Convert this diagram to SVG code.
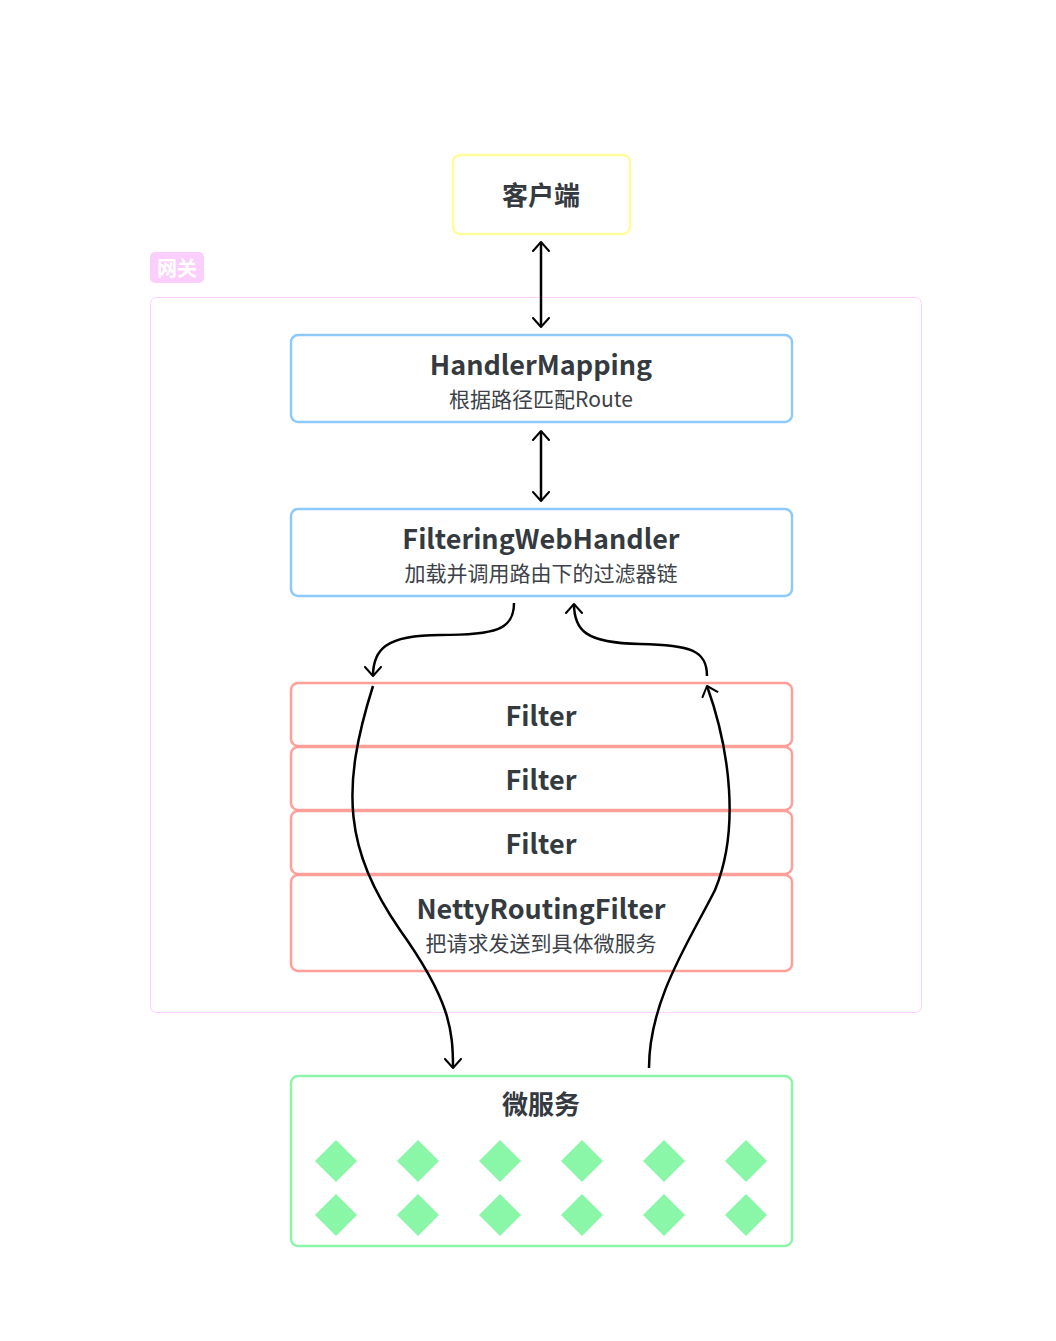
<svg xmlns="http://www.w3.org/2000/svg" width="1056" height="1341" viewBox="0 0 1056 1341">
<defs>
<marker id="ah" viewBox="0 0 20 20" refX="10" refY="10" markerWidth="20" markerHeight="20" markerUnits="userSpaceOnUse" orient="auto-start-reverse">
<path d="M1 2 L10 10 L1 18" fill="none" stroke="#000" stroke-width="2" stroke-linecap="round" stroke-linejoin="round"/>
</marker>
<style>
text{font-family:"Noto Sans CJK SC","Noto Sans",sans-serif;fill:#343a40;text-anchor:middle}
.t{font-size:27px;font-weight:bold}
.s{font-size:21px;fill:#3c4248}
.blue{fill:#fff;stroke:#8ec9fb;stroke-width:2.5}
.red{fill:#fff;stroke:#ff9f9a;stroke-width:2.5}
.c{fill:none;stroke:#000;stroke-width:2.5;marker-end:url(#ah)}
.dia{fill:#8af7a8}
</style>
</defs>
<rect width="1056" height="1341" fill="#fff"/>
<g id="gateway">
<rect x="150.5" y="297.5" width="771" height="715" rx="6" fill="none" stroke="#fbd0fc" stroke-width="1"/>
<rect x="150" y="252" width="54" height="31" rx="5" fill="#fbcffc"/>
<text x="177" y="276" style="font-size:20px;font-weight:bold;fill:#fff">网关</text>
</g>
<g id="client">
<rect x="453" y="155" width="177" height="79" rx="7" fill="#fff" stroke="#fffc9e" stroke-width="2.5"/>
<text x="541" y="205" style="font-size:26px;font-weight:bold">客户端</text>
</g>
<g id="handlermapping">
<rect x="291" y="335" width="501" height="87" rx="7" class="blue"/>
<text x="541" y="375" class="t">HandlerMapping</text>
<text x="541" y="407" class="s">根据路径匹配Route</text>
</g>
<g id="filteringwebhandler">
<rect x="291" y="509" width="501" height="87" rx="7" class="blue"/>
<text x="541" y="549" class="t">FilteringWebHandler</text>
<text x="541" y="581" class="s">加载并调用路由下的过滤器链</text>
</g>
<g id="filter1">
<rect x="291" y="683" width="501" height="63" rx="7" class="red"/>
<text x="541" y="726" class="t">Filter</text>
</g>
<g id="filter2">
<rect x="291" y="747" width="501" height="63" rx="7" class="red"/>
<text x="541" y="790" class="t">Filter</text>
</g>
<g id="filter3">
<rect x="291" y="811" width="501" height="63" rx="7" class="red"/>
<text x="541" y="854" class="t">Filter</text>
</g>
<g id="nettyroutingfilter">
<rect x="291" y="875" width="501" height="96" rx="7" class="red"/>
<text x="541" y="919" class="t">NettyRoutingFilter</text>
<text x="541" y="951" class="s">把请求发送到具体微服务</text>
</g>
<g id="microservices">
<rect x="291" y="1076" width="501" height="170" rx="7" fill="#fff" stroke="#8cf5a8" stroke-width="2.5"/>
<text x="541" y="1114" style="font-size:26px;font-weight:bold">微服务</text>
<g class="dia">
<path d="M336 1140 l21 21 l-21 21 l-21 -21 z"/>
<path d="M418 1140 l21 21 l-21 21 l-21 -21 z"/>
<path d="M500 1140 l21 21 l-21 21 l-21 -21 z"/>
<path d="M582 1140 l21 21 l-21 21 l-21 -21 z"/>
<path d="M664 1140 l21 21 l-21 21 l-21 -21 z"/>
<path d="M746 1140 l21 21 l-21 21 l-21 -21 z"/>
<path d="M336 1194 l21 21 l-21 21 l-21 -21 z"/>
<path d="M418 1194 l21 21 l-21 21 l-21 -21 z"/>
<path d="M500 1194 l21 21 l-21 21 l-21 -21 z"/>
<path d="M582 1194 l21 21 l-21 21 l-21 -21 z"/>
<path d="M664 1194 l21 21 l-21 21 l-21 -21 z"/>
<path d="M746 1194 l21 21 l-21 21 l-21 -21 z"/>
</g>
</g>
<g id="connectors">
<path class="c" d="M541 242 L541 327" style="marker-start:url(#ah)"/>
<path class="c" d="M541 431 L541 501" style="marker-start:url(#ah)"/>
<path class="c" d="M514 603 C514 630 495 635 440 635 C385 635 373 650 373 676"/>
<path class="c" d="M707 676 C707 650 690 645 640 644 C585 643 574 630 574 604"/>
<path class="c" d="M373 686 C340 790 345 850 400 930 C450 1000 453 1030 453 1068"/>
<path class="c" d="M649 1068 C649 1000 690 940 715 890 C740 830 730 750 707 686"/>
</g>
</svg>
